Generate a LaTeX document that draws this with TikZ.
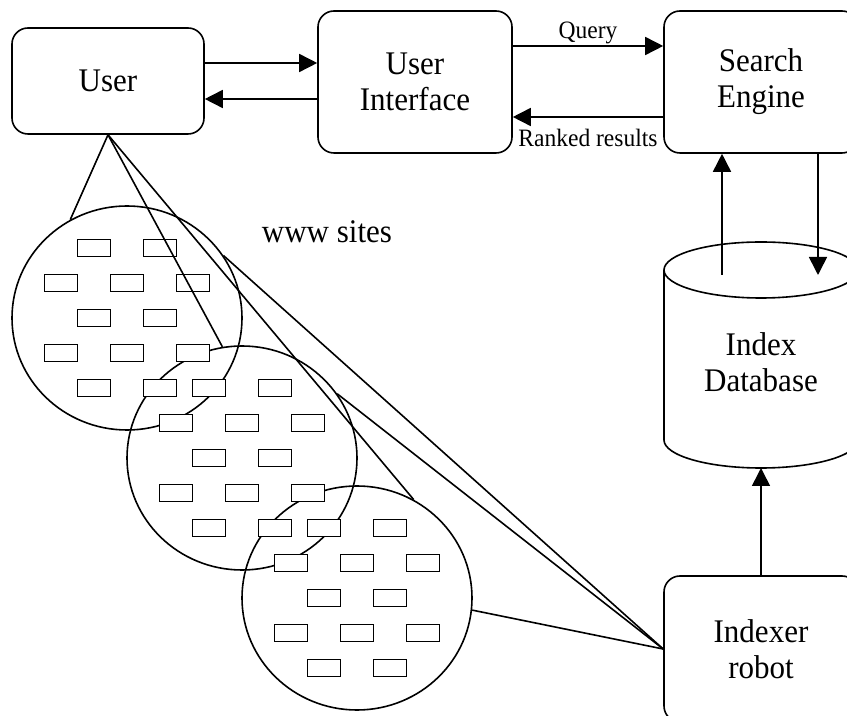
\documentclass[tikz,border=0pt]{standalone}
\usepackage{fontspec}
\setmainfont{Liberation Serif}[FakeStretch=0.94]
\usetikzlibrary{positioning,arrows.meta,shapes.geometric}

\tikzset{
  box/.style={draw, line width=0.8pt, rounded corners=8pt, align=center, inner sep=0pt},
  site/.style={draw, ellipse, line width=0.8pt, minimum width=115pt, minimum height=112pt, inner sep=0pt},
  page/.style={draw, fill=white, line width=0.8pt, minimum width=16.5pt, minimum height=8.5pt, inner sep=0pt},
  arr/.style={line width=0.8pt, -{Triangle[length=9pt,width=9pt]}},
  link/.style={line width=0.8pt},
  small/.style={font=\fontsize{12.5}{14}\selectfont},
}

\begin{document}
\begin{tikzpicture}[x=0.5pt, y=-0.5pt, font=\fontsize{16.5}{18}\selectfont]
  \useasboundingbox (0,0) rectangle (847,716);
  \clip (0,0) rectangle (847,716);

  % top row
  \node[box, minimum width=96pt, minimum height=53pt] (user) at (108,81) {User};
  \node[box, minimum width=97pt, minimum height=71pt] (ui) at (415,82) {User\\Interface};
  \node[box, minimum width=97pt, minimum height=71pt] (se) at (761,82) {Search\\Engine};

  \coordinate (uout) at ([yshift=9pt]user.east);
  \coordinate (uin) at ([yshift=-9pt]user.east);
  \draw[arr] (uout) -- (uout -| ui.west);
  \draw[arr] (uin -| ui.west) -- (uin);

  \coordinate (qry) at ([yshift=18pt]ui.east);
  \coordinate (res) at ([yshift=-17.5pt]ui.east);
  \draw[arr] (qry) -- node[small, above, inner sep=0.5pt] {Query} (qry -| se.west);
  \draw[arr] (res -| se.west) -- node[small, below, inner sep=5.5pt] {Ranked results} (res);

  % index database (cylinder)
  \node[align=center] (db) at (761,362) {Index\\Database};
  \coordinate (dbtop) at (761,270);
  \coordinate (dbbase) at (761,440);
  \draw[link] (dbtop) ellipse [x radius=48.5pt, y radius=14pt];
  \draw[link] ([xshift=-48.5pt]dbtop) -- ([xshift=-48.5pt]dbbase)
    arc [start angle=180, end angle=360, x radius=48.5pt, y radius=14pt] -- ([xshift=48.5pt]dbtop);

  \coordinate (dbin) at (722,275);
  \coordinate (dbout) at (818,275);
  \coordinate (dbfoot) at (761,468);
  \draw[arr] (dbin) -- (dbin |- se.south);
  \draw[arr] (dbout |- se.south) -- (dbout);

  % indexer
  \node[box, minimum width=97pt, minimum height=73pt] (robot) at (761,649) {Indexer\\robot};
  \draw[arr] (robot.north) -- (dbfoot);

  % www sites
  \node (www) at (327,232) {www sites};
  \foreach \i in {1,2,3}
    \node[site] (site\i) at ({127+115*(\i-1)},{318+140*(\i-1)}) {};
  \foreach \i in {1,2,3}
    \foreach \dx/\dy in {-33/-70, 33/-70, -66/-35, 0/-35, 66/-35, -33/0, 33/0,
                         -66/35, 0/35, 66/35, -33/70, 33/70}
      \node[page] at ([shift={(\dx,\dy)}]site\i.center) {};

  \draw[link] (user.south) -- (site1.120);
  \draw[link] (user.south) -- (site2.100);
  \draw[link] (user.south) -- (site3.60);
  \draw[link] (robot.west) -- (site1.33);
  \draw[link] (robot.west) -- (site2.34);
  \draw[link] (robot.west) -- (site3.354);
\end{tikzpicture}
\end{document}
